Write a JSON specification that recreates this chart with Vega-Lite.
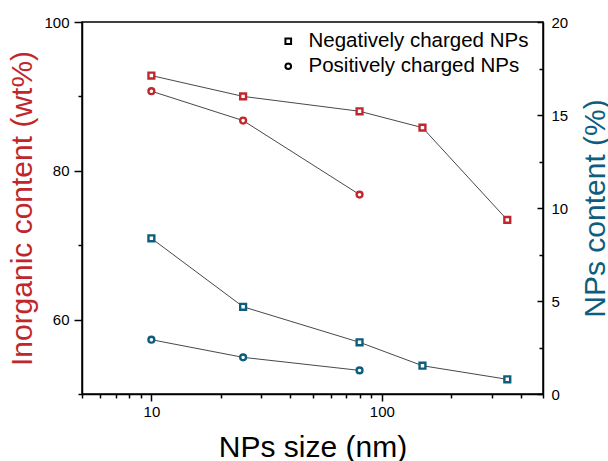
{
  "$schema": "https://vega.github.io/schema/vega-lite/v6.json",
  "width": 461,
  "height": 372,
  "autosize": {"type": "none"},
  "padding": {"left": 82, "top": 22, "right": 65, "bottom": 67},
  "config": {
    "font": "Liberation Sans",
    "view": {"stroke": "black", "strokeWidth": 1.5},
    "axis": {
      "domainColor": "black", "domainWidth": 1.5,
      "tickColor": "black", "tickWidth": 1.5,
      "labelColor": "black", "labelFontSize": 15, "labelFont": "Liberation Sans",
      "grid": false, "titleFontSize": 30, "titleFontWeight": "normal", "titleFont": "Liberation Sans"
    },
    "legend": {
      "orient": "none", "legendX": 196, "legendY": 9, "labelFontSize": 20.5, "labelColor": "black", "labelFont": "Liberation Sans",
      "labelLimit": 400, "symbolSize": 32, "symbolStrokeWidth": 2, "labelOffset": 10, "rowPadding": 4, "padding": 0
    }
  },
  "data": {
    "values": [
      {"size": 10, "charge": "Negatively charged NPs", "inorganic": 92.8, "content": 8.37},
      {"size": 25, "charge": "Negatively charged NPs", "inorganic": 90.0, "content": 4.69},
      {"size": 80, "charge": "Negatively charged NPs", "inorganic": 88.0, "content": 2.78},
      {"size": 150, "charge": "Negatively charged NPs", "inorganic": 85.8, "content": 1.52},
      {"size": 350, "charge": "Negatively charged NPs", "inorganic": 73.4, "content": 0.79},
      {"size": 10, "charge": "Positively charged NPs", "inorganic": 90.7, "content": 2.92},
      {"size": 25, "charge": "Positively charged NPs", "inorganic": 86.75, "content": 1.97},
      {"size": 80, "charge": "Positively charged NPs", "inorganic": 76.8, "content": 1.27}
    ]
  },
  "layer": [
    {
      "layer": [
        {
          "mark": {"type": "point", "filled": false, "color": "black", "strokeWidth": 1.6, "size": 26, "opacity": 1},
          "encoding": {
            "x": {"field": "size", "type": "quantitative", "scale": {"type": "log", "domain": [5, 500]}},
            "y": {"field": "inorganic", "type": "quantitative", "scale": {"domain": [50, 100]}, "axis": null},
            "shape": {"field": "charge", "type": "nominal",
              "scale": {"domain": ["Negatively charged NPs", "Positively charged NPs"], "range": ["square", "circle"]},
              "legend": {"title": null}}
          }
        },
        {
          "mark": {"type": "line", "color": "#333333", "strokeWidth": 0.9},
          "encoding": {
            "x": {"field": "size", "type": "quantitative", "scale": {"type": "log", "domain": [5, 500]},
              "axis": {"orient": "bottom", "values": [10, 100], "format": "d", "tickSize": 7, "labelPadding": 3,
                "title": "NPs size (nm)", "titleColor": "black", "titleX": 230.5, "titleY": 62, "titleBaseline": "alphabetic", "titleAlign": "center"}},
            "y": {"field": "inorganic", "type": "quantitative", "scale": {"domain": [50, 100]},
              "axis": {"orient": "left", "values": [60, 80, 100], "tickSize": 8, "labelPadding": 5,
                "title": "Inorganic content (wt%)", "titleColor": "#C0272D", "titleAngle": -90, "titleX": -50.5, "titleY": 186, "titleBaseline": "alphabetic", "titleAlign": "center"}},
            "detail": {"field": "charge", "type": "nominal"}
          }
        },
        {
          "mark": {"type": "point", "filled": true, "fill": "white", "stroke": "#C0272D", "strokeWidth": 2.4, "size": 34, "opacity": 1},
          "encoding": {
            "x": {"field": "size", "type": "quantitative", "scale": {"type": "log", "domain": [5, 500]}},
            "y": {"field": "inorganic", "type": "quantitative", "scale": {"domain": [50, 100]},
              "axis": {"orient": "left", "values": [50, 70, 90], "labels": false, "tickSize": 4, "domain": false, "title": null}},
            "shape": {"field": "charge", "type": "nominal",
              "scale": {"domain": ["Negatively charged NPs", "Positively charged NPs"], "range": ["square", "circle"]},
              "legend": {"title": null}}
          }
        }
      ],
      "resolve": {"axis": {"y": "independent"}}
    },
    {
      "layer": [
        {
          "mark": {"type": "line", "color": "#333333", "strokeWidth": 0.9},
          "encoding": {
            "x": {"field": "size", "type": "quantitative", "scale": {"type": "log", "domain": [5, 500]},
              "axis": {"orient": "bottom", "values": [5, 6, 7, 8, 9, 20, 30, 40, 50, 60, 70, 80, 90, 200, 300, 400, 500], "labels": false, "tickSize": 4, "domain": false, "title": null}},
            "y": {"field": "content", "type": "quantitative", "scale": {"domain": [0, 20]},
              "axis": {"orient": "right", "values": [0, 5, 10, 15, 20], "tickSize": -6, "labelPadding": 14,
                "title": "NPs content (%)", "titleColor": "#0D5D7E", "titleAngle": -90, "titleX": 61, "titleY": 186, "titleBaseline": "alphabetic", "titleAlign": "center"}},
            "detail": {"field": "charge", "type": "nominal"}
          }
        },
        {
          "mark": {"type": "point", "filled": true, "fill": "white", "stroke": "#0D5D7E", "strokeWidth": 2.4, "size": 34, "opacity": 1},
          "encoding": {
            "x": {"field": "size", "type": "quantitative", "scale": {"type": "log", "domain": [5, 500]}},
            "y": {"field": "content", "type": "quantitative", "scale": {"domain": [0, 20]},
              "axis": {"orient": "right", "values": [2.5, 7.5, 12.5, 17.5], "labels": false, "tickSize": -4, "domain": false, "title": null}},
            "shape": {"field": "charge", "type": "nominal",
              "scale": {"domain": ["Negatively charged NPs", "Positively charged NPs"], "range": ["square", "circle"]},
              "legend": {"title": null}}
          }
        }
      ],
      "resolve": {"axis": {"y": "independent"}}
    }
  ],
  "resolve": {"scale": {"y": "independent"}, "axis": {"x": "independent", "y": "independent"}}
}
